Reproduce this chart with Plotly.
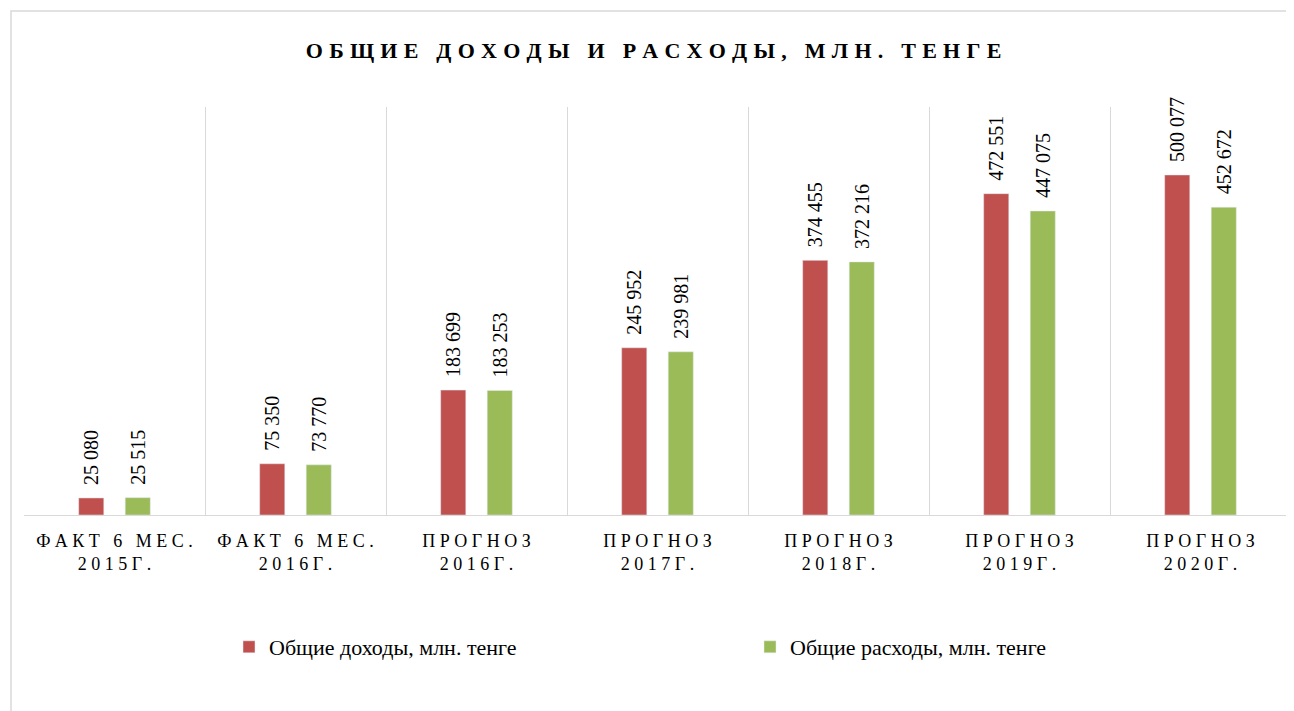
import plotly.graph_objects as go

categories = ["ФАКТ 6 МЕС.<br>2015Г.", "ФАКТ 6 МЕС.<br>2016Г.", "ПРОГНОЗ<br>2016Г.",
              "ПРОГНОЗ<br>2017Г.", "ПРОГНОЗ<br>2018Г.", "ПРОГНОЗ<br>2019Г.", "ПРОГНОЗ<br>2020Г."]
income = [25080, 75350, 183699, 245952, 374455, 472551, 500077]
expenses = [25515, 73770, 183253, 239981, 372216, 447075, 452672]
income_name = "Общие доходы, млн. тенге"
expenses_name = "Общие расходы, млн. тенге"
title_text = "ОБЩИЕ ДОХОДЫ И РАСХОДЫ, МЛН. ТЕНГЕ"

SP = "\u2009\u200a"
TICK_SP = "\u2005"
NB = "\u00a0"


def spaced(s, sep):
    parts = s.split("<br>")
    return "<br>".join(sep.join(list(p)) for p in parts)


def fmt(v):
    return NB + NB + f"{v:,}".replace(",", NB)


font_family = "Liberation Serif"
cats = [spaced(c, TICK_SP) for c in categories]

W, H = 1286, 703
L, R, T, B = 16, 3, 99, 196
pw = W - L - R
ph = H - T - B

label_font = dict(family=font_family, size=20, color="#000")

fig = go.Figure()
fig.add_trace(go.Bar(
    x=cats, y=income, name=income_name, marker_color="#c0504d",
    text=[fmt(v) for v in income], textposition="outside", textangle=-90,
    constraintext="none", textfont=label_font, outsidetextfont=label_font,
    cliponaxis=False, legend="legend",
))
fig.add_trace(go.Bar(
    x=cats, y=expenses, name=expenses_name, marker_color="#9bbb59",
    text=[fmt(v) for v in expenses], textposition="outside", textangle=-90,
    constraintext="none", textfont=label_font, outsidetextfont=label_font,
    cliponaxis=False, legend="legend2",
))

legend_common = dict(orientation="h", xanchor="left", yanchor="middle",
                     y=(507 - 639) / ph, font=dict(family=font_family, size=22, color="#000"),
                     itemwidth=30, bgcolor="rgba(0,0,0,0)")

fig.update_layout(
    width=W, height=H,
    margin=dict(l=L, r=R, t=T, b=B),
    paper_bgcolor="white", plot_bgcolor="white",
    barmode="group", bargap=0.486, bargroupgap=0.46,
    title=dict(text="<b>" + spaced(title_text, SP) + "</b>", x=0.502, xanchor="center",
               y=1 - 42 / H, yanchor="middle",
               font=dict(family=font_family, size=22, color="#000")),
    legend=dict(x=(241 - 20 - L) / pw, **legend_common),
    legend2=dict(x=(762 - 20 - L) / pw, **legend_common),
    showlegend=True,
)
fig.update_xaxes(
    type="category", tickson="boundaries", showgrid=True, gridcolor="#d9d9d9", gridwidth=1,
    showline=True, linecolor="#d9d9d9", linewidth=1, ticks="",
    tickfont=dict(family=font_family, size=18, color="#000"), tickangle=0,
    ticklabelstandoff=9,
)
fig.update_yaxes(range=[0, 600000], showgrid=False, showticklabels=False, zeroline=False,
                 showline=False)

fig.add_shape(type="rect", xref="paper", yref="paper",
              x0=(3 - L) / pw, x1=1.05, y0=-1.5, y1=1 + (T - 3) / ph,
              line=dict(color="#d9d9d9", width=1.5), fillcolor="rgba(0,0,0,0)", layer="below")

fig.write_html("out.html")
